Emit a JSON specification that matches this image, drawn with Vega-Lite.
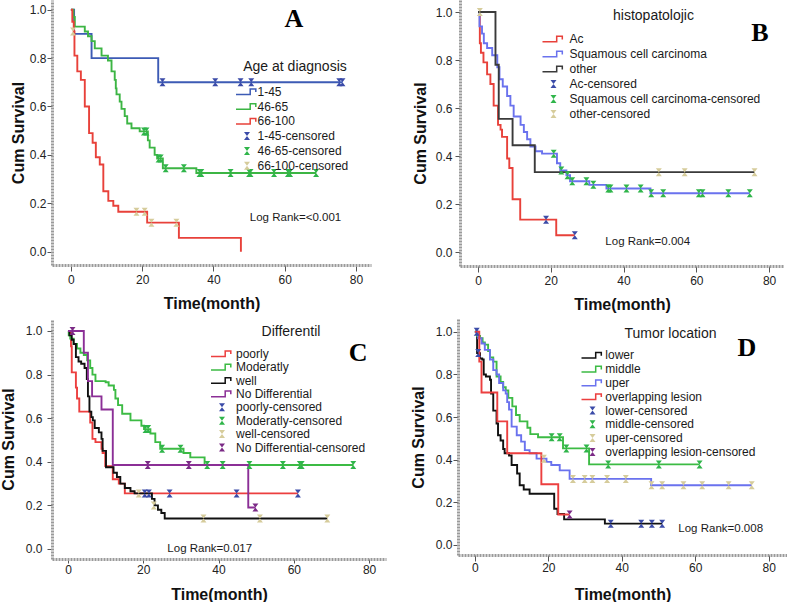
{
"$schema":"https://vega.github.io/schema/vega-lite/v6.json",
"padding":{"left":0,"top":0,"right":0,"bottom":0},
"background":"white",
"config":{
 "view":{"stroke":null},
 "font":"Liberation Sans",
 "line":{"strokeWidth":1.9},
 "axis":{"domainColor":"#9a9a9a","domainWidth":3,"domainDash":[2,1],"tickColor":"#555","tickWidth":1,"labelFont":"Liberation Sans","labelFontSize":12,"labelColor":"#222","titleFont":"Liberation Sans","titleFontSize":16,"titleFontWeight":"bold","titleColor":"#111","grid":false,"labelFlush":false,"labelOverlap":false},
 "legend":{"labelFont":"Liberation Sans","labelFontSize":12,"labelColor":"#1a1a1a","labelLimit":0,"padding":0,"symbolOpacity":1,"symbolSize":64,"symbolStrokeWidth":0,"titleFont":"Liberation Sans","titleFontSize":14,"titleFontWeight":"normal","titleColor":"#1a1a1a","titleAnchor":"middle","titleLimit":0}
},
"resolve":{"scale":{"color":"independent","shape":"independent","stroke":"independent"},"legend":{"color":"independent","shape":"independent"}},
"datasets":{
"lineA":[
{"g":"1-45","t":0,"s":1},{"g":"1-45","t":0.9,"s":0.9},{"g":"1-45","t":5.8,"s":0.8},{"g":"1-45","t":24.5,"s":0.7},{"g":"1-45","t":76.2,"s":0.7},
{"g":"46-65","t":0,"s":1},{"g":"46-65","t":0.7,"s":0.97},{"g":"46-65","t":1.1,"s":0.93},{"g":"46-65","t":3.9,"s":0.91},{"g":"46-65","t":4.8,"s":0.89},{"g":"46-65","t":5.8,"s":0.87},{"g":"46-65","t":6.7,"s":0.84},{"g":"46-65","t":8.6,"s":0.81},{"g":"46-65","t":10.4,"s":0.79},{"g":"46-65","t":11.4,"s":0.745},{"g":"46-65","t":12.3,"s":0.71},{"g":"46-65","t":12.6,"s":0.675},{"g":"46-65","t":12.8,"s":0.65},{"g":"46-65","t":13.7,"s":0.62},{"g":"46-65","t":14.2,"s":0.59},{"g":"46-65","t":15.1,"s":0.56},{"g":"46-65","t":15.8,"s":0.53},{"g":"46-65","t":17,"s":0.51},{"g":"46-65","t":19.3,"s":0.497},{"g":"46-65","t":21.6,"s":0.46},{"g":"46-65","t":22.1,"s":0.43},{"g":"46-65","t":23.5,"s":0.4},{"g":"46-65","t":24.2,"s":0.385},{"g":"46-65","t":25.8,"s":0.345},{"g":"46-65","t":35.2,"s":0.325},{"g":"46-65","t":68.8,"s":0.325},
{"g":"66-100","t":0,"s":1},{"g":"66-100","t":0.4,"s":0.95},{"g":"66-100","t":0.8,"s":0.91},{"g":"66-100","t":1,"s":0.81},{"g":"66-100","t":1.8,"s":0.745},{"g":"66-100","t":2.8,"s":0.71},{"g":"66-100","t":3.9,"s":0.6},{"g":"66-100","t":5.1,"s":0.49},{"g":"66-100","t":6.1,"s":0.45},{"g":"66-100","t":7,"s":0.39},{"g":"66-100","t":8.1,"s":0.36},{"g":"66-100","t":9.1,"s":0.25},{"g":"66-100","t":10.5,"s":0.21},{"g":"66-100","t":11.9,"s":0.19},{"g":"66-100","t":13.3,"s":0.165},{"g":"66-100","t":21.4,"s":0.12},{"g":"66-100","t":30.3,"s":0.057},{"g":"66-100","t":47.7,"s":0}
],
"censA":[
{"g":"1-45-censored","t":25.7,"s":0.7},{"g":"1-45-censored","t":40.5,"s":0.7},{"g":"1-45-censored","t":47.6,"s":0.7},{"g":"1-45-censored","t":50.6,"s":0.7},{"g":"1-45-censored","t":75.3,"s":0.7},{"g":"1-45-censored","t":76.2,"s":0.7},
{"g":"46-65-censored","t":20.5,"s":0.497},{"g":"46-65-censored","t":21.2,"s":0.497},{"g":"46-65-censored","t":24.6,"s":0.385},{"g":"46-65-censored","t":25.2,"s":0.385},{"g":"46-65-censored","t":26.6,"s":0.345},{"g":"46-65-censored","t":31.7,"s":0.345},{"g":"46-65-censored","t":36.1,"s":0.325},{"g":"46-65-censored","t":36.6,"s":0.325},{"g":"46-65-censored","t":44.8,"s":0.325},{"g":"46-65-censored","t":50,"s":0.325},{"g":"46-65-censored","t":50.4,"s":0.325},{"g":"46-65-censored","t":57,"s":0.325},{"g":"46-65-censored","t":60.9,"s":0.325},{"g":"46-65-censored","t":61.5,"s":0.325},{"g":"46-65-censored","t":68.8,"s":0.325},
{"g":"66-100-censored","t":0.6,"s":0.91},{"g":"66-100-censored","t":18.4,"s":0.165},{"g":"66-100-censored","t":20.7,"s":0.165},{"g":"66-100-censored","t":22.6,"s":0.12},{"g":"66-100-censored","t":29.6,"s":0.12}
],
"lineB":[
{"g":"Ac","t":0,"s":1},{"g":"Ac","t":0.5,"s":0.87},{"g":"Ac","t":0.8,"s":0.83},{"g":"Ac","t":1.5,"s":0.79},{"g":"Ac","t":2.5,"s":0.74},{"g":"Ac","t":3.4,"s":0.7},{"g":"Ac","t":4.3,"s":0.61},{"g":"Ac","t":5.5,"s":0.53},{"g":"Ac","t":6.2,"s":0.51},{"g":"Ac","t":6.6,"s":0.48},{"g":"Ac","t":8,"s":0.39},{"g":"Ac","t":8.6,"s":0.35},{"g":"Ac","t":9.5,"s":0.22},{"g":"Ac","t":11.6,"s":0.135},{"g":"Ac","t":21.5,"s":0.07},{"g":"Ac","t":26.6,"s":0.07},
{"g":"Squamous cell carcinoma","t":0,"s":1},{"g":"Squamous cell carcinoma","t":0.4,"s":0.94},{"g":"Squamous cell carcinoma","t":1.1,"s":0.91},{"g":"Squamous cell carcinoma","t":1.6,"s":0.87},{"g":"Squamous cell carcinoma","t":2.5,"s":0.85},{"g":"Squamous cell carcinoma","t":3.9,"s":0.82},{"g":"Squamous cell carcinoma","t":5.3,"s":0.77},{"g":"Squamous cell carcinoma","t":5.9,"s":0.72},{"g":"Squamous cell carcinoma","t":6.8,"s":0.69},{"g":"Squamous cell carcinoma","t":8,"s":0.65},{"g":"Squamous cell carcinoma","t":8.9,"s":0.61},{"g":"Squamous cell carcinoma","t":9.8,"s":0.565},{"g":"Squamous cell carcinoma","t":11.7,"s":0.53},{"g":"Squamous cell carcinoma","t":12.6,"s":0.5},{"g":"Squamous cell carcinoma","t":13.5,"s":0.47},{"g":"Squamous cell carcinoma","t":14.4,"s":0.44},{"g":"Squamous cell carcinoma","t":15.8,"s":0.42},{"g":"Squamous cell carcinoma","t":17.6,"s":0.41},{"g":"Squamous cell carcinoma","t":21.7,"s":0.37},{"g":"Squamous cell carcinoma","t":22.6,"s":0.34},{"g":"Squamous cell carcinoma","t":24.3,"s":0.32},{"g":"Squamous cell carcinoma","t":25.3,"s":0.295},{"g":"Squamous cell carcinoma","t":30.6,"s":0.28},{"g":"Squamous cell carcinoma","t":35.3,"s":0.265},{"g":"Squamous cell carcinoma","t":47.4,"s":0.245},{"g":"Squamous cell carcinoma","t":74.7,"s":0.245},
{"g":"other","t":0,"s":1},{"g":"other","t":4.8,"s":0.78},{"g":"other","t":5.7,"s":0.555},{"g":"other","t":9.5,"s":0.445},{"g":"other","t":15.6,"s":0.333},{"g":"other","t":76,"s":0.333}
],
"censB":[
{"g":"Ac-censored","t":18.7,"s":0.135},{"g":"Ac-censored","t":26.6,"s":0.07},
{"g":"Squamous cell carcinoma-censored","t":20.8,"s":0.41},{"g":"Squamous cell carcinoma-censored","t":22.9,"s":0.34},{"g":"Squamous cell carcinoma-censored","t":24.6,"s":0.32},{"g":"Squamous cell carcinoma-censored","t":25.9,"s":0.295},{"g":"Squamous cell carcinoma-censored","t":29.8,"s":0.295},{"g":"Squamous cell carcinoma-censored","t":31.7,"s":0.28},{"g":"Squamous cell carcinoma-censored","t":35.8,"s":0.265},{"g":"Squamous cell carcinoma-censored","t":36.4,"s":0.265},{"g":"Squamous cell carcinoma-censored","t":40.8,"s":0.265},{"g":"Squamous cell carcinoma-censored","t":44.7,"s":0.265},{"g":"Squamous cell carcinoma-censored","t":47.6,"s":0.245},{"g":"Squamous cell carcinoma-censored","t":50.9,"s":0.245},{"g":"Squamous cell carcinoma-censored","t":60.7,"s":0.245},{"g":"Squamous cell carcinoma-censored","t":61.7,"s":0.245},{"g":"Squamous cell carcinoma-censored","t":68.8,"s":0.245},{"g":"Squamous cell carcinoma-censored","t":74.7,"s":0.245},
{"g":"other-censored","t":0.5,"s":1},{"g":"other-censored","t":49.7,"s":0.333},{"g":"other-censored","t":56.8,"s":0.333},{"g":"other-censored","t":76,"s":0.333}
],
"lineC":[
{"g":"poorly","t":0,"s":1},{"g":"poorly","t":0.8,"s":0.93},{"g":"poorly","t":1,"s":0.81},{"g":"poorly","t":2.1,"s":0.74},{"g":"poorly","t":2.4,"s":0.69},{"g":"poorly","t":3,"s":0.63},{"g":"poorly","t":5.9,"s":0.58},{"g":"poorly","t":6.5,"s":0.505},{"g":"poorly","t":7.3,"s":0.49},{"g":"poorly","t":8.9,"s":0.46},{"g":"poorly","t":9.2,"s":0.44},{"g":"poorly","t":9.9,"s":0.38},{"g":"poorly","t":11.9,"s":0.32},{"g":"poorly","t":13.5,"s":0.3},{"g":"poorly","t":15.1,"s":0.255},{"g":"poorly","t":61.1,"s":0.255},
{"g":"Moderatly","t":0,"s":1},{"g":"Moderatly","t":0.2,"s":0.98},{"g":"Moderatly","t":0.6,"s":0.965},{"g":"Moderatly","t":1.5,"s":0.94},{"g":"Moderatly","t":2.4,"s":0.92},{"g":"Moderatly","t":3.3,"s":0.9},{"g":"Moderatly","t":4.2,"s":0.89},{"g":"Moderatly","t":5.1,"s":0.865},{"g":"Moderatly","t":5.9,"s":0.83},{"g":"Moderatly","t":6.5,"s":0.8},{"g":"Moderatly","t":7.3,"s":0.77},{"g":"Moderatly","t":10,"s":0.765},{"g":"Moderatly","t":10.8,"s":0.75},{"g":"Moderatly","t":12.2,"s":0.73},{"g":"Moderatly","t":12.6,"s":0.69},{"g":"Moderatly","t":13.3,"s":0.66},{"g":"Moderatly","t":14.4,"s":0.62},{"g":"Moderatly","t":16.6,"s":0.59},{"g":"Moderatly","t":19.5,"s":0.565},{"g":"Moderatly","t":20.2,"s":0.55},{"g":"Moderatly","t":21.9,"s":0.53},{"g":"Moderatly","t":23.2,"s":0.49},{"g":"Moderatly","t":24.5,"s":0.46},{"g":"Moderatly","t":30.7,"s":0.44},{"g":"Moderatly","t":32.5,"s":0.42},{"g":"Moderatly","t":36.3,"s":0.385},{"g":"Moderatly","t":75.8,"s":0.385},
{"g":"well","t":0,"s":1},{"g":"well","t":0.4,"s":0.98},{"g":"well","t":1,"s":0.96},{"g":"well","t":1.5,"s":0.94},{"g":"well","t":2.1,"s":0.88},{"g":"well","t":2.8,"s":0.86},{"g":"well","t":3.5,"s":0.85},{"g":"well","t":4.4,"s":0.83},{"g":"well","t":5,"s":0.78},{"g":"well","t":5.3,"s":0.7},{"g":"well","t":5.7,"s":0.63},{"g":"well","t":6.2,"s":0.605},{"g":"well","t":6.6,"s":0.59},{"g":"well","t":7.1,"s":0.555},{"g":"well","t":8.2,"s":0.535},{"g":"well","t":8.9,"s":0.505},{"g":"well","t":9.2,"s":0.45},{"g":"well","t":10.1,"s":0.375},{"g":"well","t":12.1,"s":0.35},{"g":"well","t":13,"s":0.33},{"g":"well","t":13.9,"s":0.3},{"g":"well","t":15.1,"s":0.28},{"g":"well","t":16.6,"s":0.265},{"g":"well","t":17.7,"s":0.255},{"g":"well","t":22.3,"s":0.23},{"g":"well","t":23,"s":0.2},{"g":"well","t":23.9,"s":0.18},{"g":"well","t":24.8,"s":0.165},{"g":"well","t":25.7,"s":0.14},{"g":"well","t":68.9,"s":0.14},
{"g":"No Differential","t":0,"s":1},{"g":"No Differential","t":4.2,"s":0.9},{"g":"No Differential","t":5.3,"s":0.77},{"g":"No Differential","t":6.4,"s":0.7},{"g":"No Differential","t":8.9,"s":0.64},{"g":"No Differential","t":11.9,"s":0.385},{"g":"No Differential","t":47.9,"s":0.19},{"g":"No Differential","t":49.8,"s":0.19}
],
"censC":[
{"g":"poorly-censored","t":20.4,"s":0.255},{"g":"poorly-censored","t":21.5,"s":0.255},{"g":"poorly-censored","t":27,"s":0.255},{"g":"poorly-censored","t":44.8,"s":0.255},{"g":"poorly-censored","t":61.1,"s":0.255},
{"g":"Moderatly-censored","t":20.6,"s":0.55},{"g":"Moderatly-censored","t":21.3,"s":0.55},{"g":"Moderatly-censored","t":25,"s":0.46},{"g":"Moderatly-censored","t":29.9,"s":0.46},{"g":"Moderatly-censored","t":37,"s":0.385},{"g":"Moderatly-censored","t":41.1,"s":0.385},{"g":"Moderatly-censored","t":48.2,"s":0.385},{"g":"Moderatly-censored","t":57.1,"s":0.385},{"g":"Moderatly-censored","t":61.6,"s":0.385},{"g":"Moderatly-censored","t":62.1,"s":0.385},{"g":"Moderatly-censored","t":75.8,"s":0.385},
{"g":"well-censored","t":18.8,"s":0.255},{"g":"well-censored","t":22.8,"s":0.2},{"g":"well-censored","t":36,"s":0.14},{"g":"well-censored","t":51,"s":0.14},{"g":"well-censored","t":68.9,"s":0.14},
{"g":"No Differential-censored","t":1.2,"s":1},{"g":"No Differential-censored","t":21.2,"s":0.385},{"g":"No Differential-censored","t":32.1,"s":0.385},{"g":"No Differential-censored","t":49.8,"s":0.19}
],
"lineD":[
{"g":"lower","t":0,"s":1},{"g":"lower","t":0.6,"s":0.9},{"g":"lower","t":1.4,"s":0.875},{"g":"lower","t":2,"s":0.87},{"g":"lower","t":2.4,"s":0.8},{"g":"lower","t":3,"s":0.79},{"g":"lower","t":4.1,"s":0.775},{"g":"lower","t":4.4,"s":0.71},{"g":"lower","t":5,"s":0.63},{"g":"lower","t":5.9,"s":0.57},{"g":"lower","t":6.3,"s":0.515},{"g":"lower","t":7,"s":0.49},{"g":"lower","t":7.7,"s":0.45},{"g":"lower","t":8.1,"s":0.43},{"g":"lower","t":9.3,"s":0.42},{"g":"lower","t":10,"s":0.375},{"g":"lower","t":11.5,"s":0.335},{"g":"lower","t":12.2,"s":0.28},{"g":"lower","t":13.3,"s":0.26},{"g":"lower","t":14.9,"s":0.24},{"g":"lower","t":21.6,"s":0.17},{"g":"lower","t":22.5,"s":0.145},{"g":"lower","t":24.3,"s":0.12},{"g":"lower","t":35.4,"s":0.1},{"g":"lower","t":51,"s":0.1},
{"g":"middle","t":0,"s":1},{"g":"middle","t":0.6,"s":0.98},{"g":"middle","t":1.4,"s":0.97},{"g":"middle","t":2.1,"s":0.95},{"g":"middle","t":2.7,"s":0.94},{"g":"middle","t":3.6,"s":0.91},{"g":"middle","t":4.1,"s":0.88},{"g":"middle","t":5,"s":0.86},{"g":"middle","t":5.9,"s":0.79},{"g":"middle","t":7,"s":0.765},{"g":"middle","t":7.7,"s":0.74},{"g":"middle","t":8.4,"s":0.725},{"g":"middle","t":9.1,"s":0.69},{"g":"middle","t":10.2,"s":0.65},{"g":"middle","t":11.2,"s":0.61},{"g":"middle","t":12.2,"s":0.58},{"g":"middle","t":14.3,"s":0.55},{"g":"middle","t":15.1,"s":0.52},{"g":"middle","t":17.2,"s":0.505},{"g":"middle","t":24,"s":0.453},{"g":"middle","t":31.1,"s":0.378},{"g":"middle","t":61.2,"s":0.378},
{"g":"uper","t":0,"s":1},{"g":"uper","t":0.9,"s":0.97},{"g":"uper","t":1.8,"s":0.945},{"g":"uper","t":2.7,"s":0.915},{"g":"uper","t":4.1,"s":0.87},{"g":"uper","t":5,"s":0.82},{"g":"uper","t":5.9,"s":0.8},{"g":"uper","t":6.6,"s":0.76},{"g":"uper","t":7.7,"s":0.725},{"g":"uper","t":8.4,"s":0.71},{"g":"uper","t":8.8,"s":0.67},{"g":"uper","t":9.3,"s":0.635},{"g":"uper","t":10,"s":0.555},{"g":"uper","t":11.4,"s":0.515},{"g":"uper","t":12.6,"s":0.485},{"g":"uper","t":13.6,"s":0.445},{"g":"uper","t":14.9,"s":0.43},{"g":"uper","t":16.8,"s":0.405},{"g":"uper","t":19.5,"s":0.39},{"g":"uper","t":20.8,"s":0.375},{"g":"uper","t":23.1,"s":0.35},{"g":"uper","t":25.8,"s":0.31},{"g":"uper","t":48,"s":0.28},{"g":"uper","t":75.4,"s":0.28},
{"g":"overlapping lesion","t":0,"s":1},{"g":"overlapping lesion","t":1.2,"s":0.86},{"g":"overlapping lesion","t":1.8,"s":0.715},{"g":"overlapping lesion","t":6.1,"s":0.58},{"g":"overlapping lesion","t":8.8,"s":0.43},{"g":"overlapping lesion","t":18.1,"s":0.285},{"g":"overlapping lesion","t":22.7,"s":0.143},{"g":"overlapping lesion","t":25.8,"s":0.143}
],
"censD":[
{"g":"lower-censored","t":0.5,"s":1},{"g":"lower-censored","t":0.9,"s":0.9},{"g":"lower-censored","t":37,"s":0.1},{"g":"lower-censored","t":45.3,"s":0.1},{"g":"lower-censored","t":48.2,"s":0.1},{"g":"lower-censored","t":51,"s":0.1},
{"g":"middle-censored","t":20.9,"s":0.505},{"g":"middle-censored","t":23.1,"s":0.505},{"g":"middle-censored","t":24.9,"s":0.453},{"g":"middle-censored","t":30.4,"s":0.453},{"g":"middle-censored","t":36.3,"s":0.378},{"g":"middle-censored","t":50.1,"s":0.378},{"g":"middle-censored","t":61.2,"s":0.378},
{"g":"uper-censored","t":18.8,"s":0.405},{"g":"uper-censored","t":26.7,"s":0.31},{"g":"uper-censored","t":29.9,"s":0.31},{"g":"uper-censored","t":32,"s":0.31},{"g":"uper-censored","t":36,"s":0.31},{"g":"uper-censored","t":41.1,"s":0.31},{"g":"uper-censored","t":48.1,"s":0.28},{"g":"uper-censored","t":51,"s":0.28},{"g":"uper-censored","t":56.8,"s":0.28},{"g":"uper-censored","t":61.9,"s":0.28},{"g":"uper-censored","t":69.1,"s":0.28},{"g":"uper-censored","t":75.4,"s":0.28},
{"g":"overlapping lesion-censored","t":25.8,"s":0.143}
]
},
"vconcat":[
{"resolve":{"scale":{"color":"independent","shape":"independent","stroke":"independent"},"legend":{"color":"independent","shape":"independent"}},
 "hconcat":[
{"width":319,"height":265,
 "layer":[
  {"data":{"name":"lineA"},"mark":{"type":"line","interpolate":"step-after"},
   "encoding":{
    "x":{"field":"t","type":"quantitative","scale":{"domain":[-5.3,84.2],"nice":false,"zero":false},"axis":{"values":[0,20,40,60,80],"title":"Time(month)","tickSize":6,"labelPadding":3,"titlePadding":10}},
    "y":{"field":"s","type":"quantitative","scale":{"domain":[-0.055,1.04],"nice":false,"zero":false},"axis":{"values":[0,0.2,0.4,0.6,0.8,1],"format":".1f","title":"Cum Survival","tickSize":5,"labelPadding":1,"titlePadding":3}},
    "stroke":{"field":"g","type":"nominal","scale":{"domain":["1-45","46-65","66-100"],"range":["#3d5bb5","#3cb544","#e8413a"]},"legend":null}}},
  {"data":{"name":"censA"},"mark":{"type":"point","filled":true,"opacity":1,"size":64,"strokeWidth":0},
   "encoding":{
    "x":{"field":"t","type":"quantitative"},"y":{"field":"s","type":"quantitative"},
    "color":{"field":"g","type":"nominal","scale":{"domain":["1-45","46-65","66-100","1-45-censored","46-65-censored","66-100-censored"],"range":["#3d5bb5","#3cb544","#e8413a","#3b4ba8","#2fb54a","#d6cc9b"]},
     "legend":{"title":"Age at diagnosis","orient":"none","legendX":189,"legendY":59.7,"titlePadding":12,"labelOffset":4.5,"rowPadding":2.8}},
    "shape":{"field":"g","type":"nominal","scale":{"domain":["1-45","46-65","66-100","1-45-censored","46-65-censored","66-100-censored"],"range":["M-2.75,0.89H0.99V-0.51H2.01V0.1H2.39V-0.89H0.61V0.51H-2.75Z","M-2.75,0.89H0.99V-0.51H2.01V0.1H2.39V-0.89H0.61V0.51H-2.75Z","M-2.75,0.89H0.99V-0.51H2.01V0.1H2.39V-0.89H0.61V0.51H-2.75Z","M-0.75,-1L0.75,-1L-0.75,1L0.75,1Z","M-0.75,-1L0.75,-1L-0.75,1L0.75,1Z","M-0.75,-1L0.75,-1L-0.75,1L0.75,1Z"]},
     "legend":{"title":"Age at diagnosis","orient":"none","legendX":189,"legendY":59.7,"titlePadding":12,"labelOffset":4.5,"rowPadding":2.8}}}},
  {"data":{"values":[{}]},"mark":{"type":"text","text":"A","font":"Liberation Serif","fontSize":26,"fontWeight":"bold","align":"center","baseline":"middle","color":"#000"},
   "encoding":{"x":{"datum":62.6,"type":"quantitative"},"y":{"datum":0.962,"type":"quantitative"}}},
  {"data":{"values":[{}]},"mark":{"type":"text","text":"Log Rank=<0.001","fontSize":11.5,"align":"left","baseline":"middle","color":"#1a1a1a"},
   "encoding":{"x":{"datum":50.2,"type":"quantitative"},"y":{"datum":0.138,"type":"quantitative"}}}
 ]},
{"width":324,"height":266,
 "layer":[
  {"data":{"name":"lineB"},"mark":{"type":"line","interpolate":"step-after"},
   "encoding":{
    "x":{"field":"t","type":"quantitative","scale":{"domain":[-4.95,84.1],"nice":false,"zero":false},"axis":{"values":[0,20,40,60,80],"title":"Time(month)","tickSize":6,"labelPadding":3,"titlePadding":10}},
    "y":{"field":"s","type":"quantitative","scale":{"domain":[-0.058,1.05],"nice":false,"zero":false},"axis":{"values":[0,0.2,0.4,0.6,0.8,1],"format":".1f","title":"Cum Survival","tickSize":5,"labelPadding":3,"titlePadding":7}},
    "stroke":{"field":"g","type":"nominal","scale":{"domain":["Ac","Squamous cell carcinoma","other"],"range":["#e8413a","#6a72ee","#3a3a3a"]},"legend":null}}},
  {"data":{"name":"censB"},"mark":{"type":"point","filled":true,"opacity":1,"size":64,"strokeWidth":0},
   "encoding":{
    "x":{"field":"t","type":"quantitative"},"y":{"field":"s","type":"quantitative"},
    "color":{"field":"g","type":"nominal","scale":{"domain":["Ac","Squamous cell carcinoma","other","Ac-censored","Squamous cell carcinoma-censored","other-censored"],"range":["#e8413a","#6a72ee","#3a3a3a","#3b4ba8","#2fb54a","#d6cc9b"]},
     "legend":{"title":"histopatolojic","orient":"none","legendX":87.5,"legendY":9,"titlePadding":10,"labelOffset":10,"rowPadding":3}},
    "shape":{"field":"g","type":"nominal","scale":{"domain":["Ac","Squamous cell carcinoma","other","Ac-censored","Squamous cell carcinoma-censored","other-censored"],"range":["M-2.75,0.89H0.99V-0.51H2.01V0.1H2.39V-0.89H0.61V0.51H-2.75Z","M-2.75,0.89H0.99V-0.51H2.01V0.1H2.39V-0.89H0.61V0.51H-2.75Z","M-2.75,0.89H0.99V-0.51H2.01V0.1H2.39V-0.89H0.61V0.51H-2.75Z","M-0.75,-1L0.75,-1L-0.75,1L0.75,1Z","M-0.75,-1L0.75,-1L-0.75,1L0.75,1Z","M-0.75,-1L0.75,-1L-0.75,1L0.75,1Z"]},
     "legend":{"title":"histopatolojic","orient":"none","legendX":87.5,"legendY":9,"titlePadding":10,"labelOffset":10,"rowPadding":3}}}},
  {"data":{"values":[{}]},"mark":{"type":"text","text":"B","font":"Liberation Serif","fontSize":26,"fontWeight":"bold","align":"center","baseline":"middle","color":"#000"},
   "encoding":{"x":{"datum":77.5,"type":"quantitative"},"y":{"datum":0.9125,"type":"quantitative"}}},
  {"data":{"values":[{}]},"mark":{"type":"text","text":"Log Rank=0.004","fontSize":11.5,"align":"left","baseline":"middle","color":"#1a1a1a"},
   "encoding":{"x":{"datum":35,"type":"quantitative"},"y":{"datum":0.043,"type":"quantitative"}}}
 ]}
],"spacing":41},
{"resolve":{"scale":{"color":"independent","shape":"independent","stroke":"independent"},"legend":{"color":"independent","shape":"independent"}},
 "hconcat":[
{"width":334,"height":240,
 "layer":[
  {"data":{"name":"lineC"},"mark":{"type":"line","interpolate":"step-after"},
   "encoding":{
    "x":{"field":"t","type":"quantitative","scale":{"domain":[-4.25,84.5],"nice":false,"zero":false},"axis":{"values":[0,20,40,60,80],"title":"Time(month)","tickSize":4,"labelPadding":1,"titlePadding":11}},
    "y":{"field":"s","type":"quantitative","scale":{"domain":[-0.046,1.055],"nice":false,"zero":false},"axis":{"values":[0,0.2,0.4,0.6,0.8,1],"format":".1f","title":"Cum Survival","tickSize":5,"labelPadding":5,"titlePadding":9}},
    "stroke":{"field":"g","type":"nominal","scale":{"domain":["poorly","Moderatly","well","No Differential"],"range":["#ec3f3f","#3cbb44","#111111","#8b2f96"]},"legend":null}}},
  {"data":{"name":"censC"},"mark":{"type":"point","filled":true,"opacity":1,"size":64,"strokeWidth":0},
   "encoding":{
    "x":{"field":"t","type":"quantitative"},"y":{"field":"s","type":"quantitative"},
    "color":{"field":"g","type":"nominal","scale":{"domain":["poorly","Moderatly","well","No Differential","poorly-censored","Moderatly-censored","well-censored","No Differential-censored"],"range":["#ec3f3f","#3cbb44","#111111","#8b2f96","#3b4ba8","#2fb54a","#d6cc9b","#7b2a86"]},
     "legend":{"title":"Differentil","orient":"none","legendX":164,"legendY":6,"titlePadding":8.7,"labelOffset":8,"rowPadding":1.4}},
    "shape":{"field":"g","type":"nominal","scale":{"domain":["poorly","Moderatly","well","No Differential","poorly-censored","Moderatly-censored","well-censored","No Differential-censored"],"range":["M-2.75,0.89H0.99V-0.51H2.01V0.1H2.39V-0.89H0.61V0.51H-2.75Z","M-2.75,0.89H0.99V-0.51H2.01V0.1H2.39V-0.89H0.61V0.51H-2.75Z","M-2.75,0.89H0.99V-0.51H2.01V0.1H2.39V-0.89H0.61V0.51H-2.75Z","M-2.75,0.89H0.99V-0.51H2.01V0.1H2.39V-0.89H0.61V0.51H-2.75Z","M-0.75,-1L0.75,-1L-0.75,1L0.75,1Z","M-0.75,-1L0.75,-1L-0.75,1L0.75,1Z","M-0.75,-1L0.75,-1L-0.75,1L0.75,1Z","M-0.75,-1L0.75,-1L-0.75,1L0.75,1Z"]},
     "legend":{"title":"Differentil","orient":"none","legendX":164,"legendY":6,"titlePadding":8.7,"labelOffset":8,"rowPadding":1.4}}}},
  {"data":{"values":[{}]},"mark":{"type":"text","text":"C","font":"Liberation Serif","fontSize":26,"fontWeight":"bold","align":"center","baseline":"middle","color":"#000"},
   "encoding":{"x":{"datum":77.1,"type":"quantitative"},"y":{"datum":0.899,"type":"quantitative"}}},
  {"data":{"values":[{}]},"mark":{"type":"text","text":"Log Rank=0.017","fontSize":11.5,"align":"left","baseline":"middle","color":"#1a1a1a"},
   "encoding":{"x":{"datum":26.4,"type":"quantitative"},"y":{"datum":0.001,"type":"quantitative"}}}
 ]},
{"width":329,"height":236,
 "layer":[
  {"data":{"name":"lineD"},"mark":{"type":"line","interpolate":"step-after"},
   "encoding":{
    "x":{"field":"t","type":"quantitative","scale":{"domain":[-4.6,85],"nice":false,"zero":false},"axis":{"values":[0,20,40,60,80],"title":"Time(month)","tickSize":6,"labelPadding":1.7,"titlePadding":12.3}},
    "y":{"field":"s","type":"quantitative","scale":{"domain":[-0.047,1.06],"nice":false,"zero":false},"axis":{"values":[0,0.2,0.4,0.6,0.8,1],"format":".1f","title":"Cum Survival","tickSize":5,"labelPadding":1,"titlePadding":9}},
    "stroke":{"field":"g","type":"nominal","scale":{"domain":["lower","middle","uper","overlapping lesion"],"range":["#111111","#3cbb44","#6a72ee","#ec3f3f"]},"legend":null}}},
  {"data":{"name":"censD"},"mark":{"type":"point","filled":true,"opacity":1,"size":64,"strokeWidth":0},
   "encoding":{
    "x":{"field":"t","type":"quantitative"},"y":{"field":"s","type":"quantitative"},
    "color":{"field":"g","type":"nominal","scale":{"domain":["lower","middle","uper","overlapping lesion","lower-censored","middle-censored","uper-censored","overlapping lesion-censored"],"range":["#111111","#3cbb44","#6a72ee","#ec3f3f","#3b4ba8","#2fb54a","#d6cc9b","#7b2a86"]},
     "legend":{"title":"Tumor location","orient":"none","legendX":128.5,"legendY":7.7,"titlePadding":8.6,"labelOffset":6.8,"rowPadding":1.8}},
    "shape":{"field":"g","type":"nominal","scale":{"domain":["lower","middle","uper","overlapping lesion","lower-censored","middle-censored","uper-censored","overlapping lesion-censored"],"range":["M-2.75,0.89H0.99V-0.51H2.01V0.1H2.39V-0.89H0.61V0.51H-2.75Z","M-2.75,0.89H0.99V-0.51H2.01V0.1H2.39V-0.89H0.61V0.51H-2.75Z","M-2.75,0.89H0.99V-0.51H2.01V0.1H2.39V-0.89H0.61V0.51H-2.75Z","M-2.75,0.89H0.99V-0.51H2.01V0.1H2.39V-0.89H0.61V0.51H-2.75Z","M-0.75,-1L0.75,-1L-0.75,1L0.75,1Z","M-0.75,-1L0.75,-1L-0.75,1L0.75,1Z","M-0.75,-1L0.75,-1L-0.75,1L0.75,1Z","M-0.75,-1L0.75,-1L-0.75,1L0.75,1Z"]},
     "legend":{"title":"Tumor location","orient":"none","legendX":128.5,"legendY":7.7,"titlePadding":8.6,"labelOffset":6.8,"rowPadding":1.8}}}},
  {"data":{"values":[{}]},"mark":{"type":"text","text":"D","font":"Liberation Serif","fontSize":26,"fontWeight":"bold","align":"center","baseline":"middle","color":"#000"},
   "encoding":{"x":{"datum":74.1,"type":"quantitative"},"y":{"datum":0.924,"type":"quantitative"}}},
  {"data":{"values":[{}]},"mark":{"type":"text","text":"Log Rank=0.008","fontSize":11.5,"align":"left","baseline":"middle","color":"#1a1a1a"},
   "encoding":{"x":{"datum":55.4,"type":"quantitative"},"y":{"datum":0.076,"type":"quantitative"}}}
 ]}
],"spacing":24}
],
"spacing":7
}
